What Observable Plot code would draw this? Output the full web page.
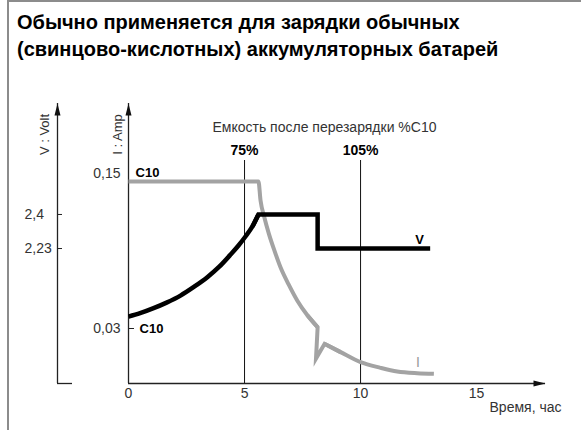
<!DOCTYPE html>
<html><head><meta charset="utf-8">
<script src="https://cdn.jsdelivr.net/npm/d3@7"></script>
<script src="https://cdn.jsdelivr.net/npm/@observablehq/plot@0.6"></script>
<style>
body{margin:0;background:#fff;font-family:"Liberation Sans",Arial,sans-serif;}
#wrap{position:relative;width:581px;height:430px;overflow:hidden;}
#frame{position:absolute;left:7px;top:0;width:600px;height:500px;border-left:2px solid #8c8c8c;border-top:2px solid #8c8c8c;pointer-events:none}
#title{position:absolute;left:17px;top:9px;font-weight:bold;font-size:20px;line-height:27px;color:#000;margin:0}
#title span{display:block;white-space:nowrap}
#chart{position:absolute;left:0;top:70px}
</style></head><body>
<div id="wrap"><div id="frame"></div><h1 id="title"></h1><div id="chart"></div></div>
<script>
// ---- texts
const titleLines = ["Обычно применяется для зарядки обычных", "(свинцово-кислотных) аккумуляторных батарей"];
const capacityTitle = "Емкость после перезарядки %C10";
const xLabel = "Время, час";
const vAxisTitle = "V : Volt";
const iAxisTitle = "I : Amp";

// ---- ticks
const xTicks = [0, 5, 10, 15];
const vTicks = [2.4, 2.23];
const vTickLabels = ["2,4", "2,23"];
const iTicks = [0.03, 0.15];
const iTickLabels = ["0,03", "0,15"];
const iTickNotes = ["C10", "C10"];
const capacityHours = [5, 10];
const capacityLabels = ["75%", "105%"];

// ---- series: voltage V (volts) vs time (hours)
const vHours = [0, 0.5, 1.08, 1.64, 2.24, 2.8, 3.41, 3.9, 4.4, 4.74, 5.04, 5.34, 5.6, 8.15, 8.15, 13.0];
const vVolts = [1.89, 1.907, 1.932, 1.96, 1.995, 2.037, 2.088, 2.138, 2.2, 2.245, 2.29, 2.34, 2.4, 2.4, 2.23, 2.23];
// ---- series: current I (amps) vs time (hours)
const iHours = [0, 5.6, 5.69, 5.85, 6.05, 6.3, 6.55, 6.9, 7.27, 7.7, 8.15, 8.08, 8.45, 9.14, 10.0, 10.86, 11.58, 12.44, 13.16];
const iAmps = [0.15, 0.15, 0.1345, 0.121, 0.1073, 0.093, 0.080, 0.066, 0.0529, 0.041, 0.031, 0.0055, 0.0175, 0.0107, 0.0025, -0.0021, -0.0051, -0.0065, -0.007];

// the volt axis is linked to the amp axis (dual axis): two reference pairs
const voltRef = [2.23, 2.4];
const ampRef = [0.0953, 0.1231];
const voltToAmp = d3.scaleLinear().domain(voltRef).range(ampRef);

const vData = vHours.map((t, k) => ({t, v: vVolts[k]}));
const iData = iHours.map((t, k) => ({t, i: iAmps[k]}));

document.getElementById("title").innerHTML = titleLines.map(s => `<span>${s}</span>`).join("");

const xDomain = [-3.06, 17.97];
const yDomain = [-0.0149, 0.2137];

const arrowSymbol = {draw(ctx) { ctx.moveTo(0, 0); ctx.lineTo(3, 12); ctx.lineTo(-3, 12); ctx.closePath(); }};
const arrows = [
  {x: xDomain[0], y: yDomain[1], a: 0},
  {x: 0, y: yDomain[1], a: 0},
  {x: xDomain[1], y: yDomain[0], a: 90}
];

const axisColor = "#222";
const labelColor = "#333";
const iStyle = {x: "t", y: "i", stroke: "#a3a3a3", strokeWidth: 4, strokeLinejoin: "miter", strokeLinecap: "butt", strokeMiterlimit: 10};
const vStyle = {x: "t", y: d => voltToAmp(d.v), stroke: "#000", strokeWidth: 4.5, strokeLinejoin: "miter", strokeLinecap: "butt", strokeMiterlimit: 10};

const chart = Plot.plot({
  width: 581, height: 360,
  marginLeft: 57, marginRight: 36, marginTop: 33, marginBottom: 47,
  x: {domain: xDomain},
  y: {domain: yDomain},
  style: {fontFamily: "'Liberation Sans', Arial, sans-serif", fontSize: "14px", background: "transparent", color: labelColor},
  marks: [
    // V axis (frame left) with foot
    Plot.ruleX([xDomain[0]], {stroke: axisColor, strokeWidth: 1.3}),
    Plot.ruleY([yDomain[0]], {x1: xDomain[0], x2: xDomain[0], insetRight: -15, stroke: axisColor, strokeWidth: 1.3}),
    // I axis and time axis
    Plot.ruleX([0], {stroke: axisColor, strokeWidth: 1.3}),
    Plot.ruleY([yDomain[0]], {x1: 0, x2: xDomain[1], stroke: axisColor, strokeWidth: 1.3}),
    Plot.dot(arrows, {x: "x", y: "y", rotate: "a", symbol: arrowSymbol, r: 1, fill: "#111", stroke: null}),
    // V axis ticks
    Plot.axisY(vTicks.map(v => voltToAmp(v)), {anchor: "left", tickSize: -5, tickPadding: 38, textAnchor: "start",
      tickFormat: (d, k) => vTickLabels[k], stroke: axisColor, fill: labelColor, fontSize: 14, label: null}),
    // I axis ticks
    Plot.axisY([iTicks[0]], {anchor: "left", dx: 71, tickSize: -6, tickPadding: 14,
      tickFormat: () => iTickLabels[0], stroke: axisColor, fill: labelColor, fontSize: 14, label: null}),
    Plot.axisY([iTicks[1]], {anchor: "left", dx: 71, dy: -8, tickSize: 0, tickPadding: 8,
      tickFormat: () => iTickLabels[1], fill: labelColor, fontSize: 14, label: null}),
    Plot.text([iTicks[0]], {x: 0, y: d => d, text: () => iTickNotes[0], dx: 11, textAnchor: "start", fontWeight: "bold", fontSize: 13, fill: "#000"}),
    Plot.text([iTicks[1]], {x: 0, y: d => d, text: () => iTickNotes[1], dx: 7, dy: -9, textAnchor: "start", fontWeight: "bold", fontSize: 13, fill: "#000"}),
    // x axis
    Plot.axisX(xTicks, {tickSize: 0, tickPadding: 5, fill: labelColor, fontSize: 14, label: null}),
    Plot.text([xLabel], {frameAnchor: "bottom-right", dx: 16, dy: 24, textAnchor: "end", lineAnchor: "middle", fill: labelColor, fontSize: 14}),
    // axis titles
    Plot.text([vAxisTitle], {x: xDomain[0], frameAnchor: "top", rotate: -90, dx: -13, dy: 31, lineAnchor: "middle", fill: labelColor, fontSize: 13}),
    Plot.text([iAxisTitle], {x: 0, frameAnchor: "top", rotate: -90, dx: -11, dy: 31, lineAnchor: "middle", fill: labelColor, fontSize: 13}),
    // capacity markers
    Plot.ruleX(capacityHours, {insetTop: 57, stroke: "#111", strokeWidth: 1}),
    Plot.text(capacityHours, {x: d => d, text: (d, k) => capacityLabels[k], frameAnchor: "top", dy: 47, lineAnchor: "middle", fontWeight: "bold", fontSize: 14, fill: "#000"}),
    Plot.text([capacityTitle], {frameAnchor: "top", dx: 23, dy: 24, lineAnchor: "middle", fill: labelColor, fontSize: 14}),
    // current I: smooth fall, sharp spike, smooth tail
    Plot.line(iData.slice(0, 11), {...iStyle, curve: "monotone-x"}),
    Plot.line(iData.slice(12), {...iStyle, curve: "monotone-x"}),
    Plot.line(iData.slice(9, 14), {...iStyle, curve: "linear"}),
    // voltage V: smooth rise, then steps
    Plot.line(vData.slice(0, 13), {...vStyle, curve: "monotone-x"}),
    Plot.line(vData.slice(11), {...vStyle, curve: "linear"}),
    Plot.text(vData, Plot.selectLast({x: "t", y: d => voltToAmp(d.v), text: () => "V", dx: -10.5, dy: -9, fontWeight: "bold", fontSize: 13, fill: "#000"})),
    Plot.text(iData, Plot.selectLast({x: "t", y: "i", text: () => "I", dx: -16, dy: -11.5, fontSize: 14, fill: "#999"}))
  ]
});
document.getElementById("chart").appendChild(chart);
</script>
</body></html>
